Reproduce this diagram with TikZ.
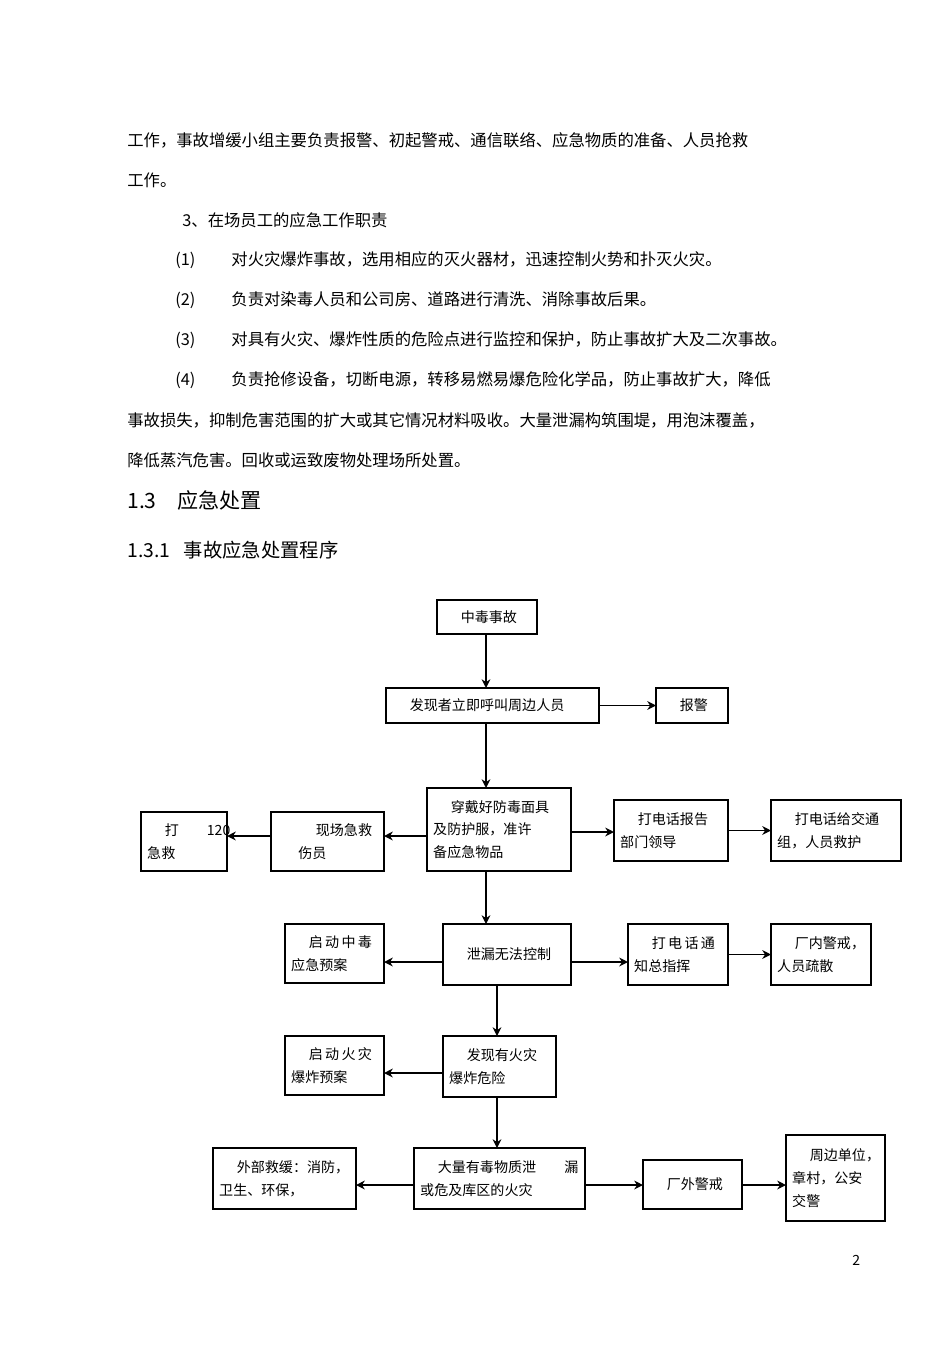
\documentclass[tikz,border=0pt]{standalone}
\usepackage{fontspec}
\newfontfamily\cjk{Noto Sans CJK SC}
\usetikzlibrary{arrows.meta}
\begin{document}
\begin{tikzpicture}[x=0.02cm,y=-0.02cm,
  bx/.style={draw,line width=0.8pt,inner sep=0pt},
  lb/.style={font=\cjk\fontsize{8}{13}\selectfont,align=left,anchor=west},
  ar/.style={-{Stealth[length=5pt,width=5pt]},line width=0.8pt},
  tx/.style={font=\cjk\fontsize{9.3}{11}\selectfont,anchor=west,inner sep=0pt}]
\useasboundingbox (0,0) rectangle (950,1345);
% body text
\node[tx] (t1) at (127,140) {工作，事故增缓小组主要负责报警、初起警戒、通信联络、应急物质的准备、人员抢救};
\node[tx] (t2) at (127,180) {工作。};
\node[tx] (t3) at (182,220) {3、在场员工的应急工作职责};
\node[tx] (t4) at (175,260) {(1)\hspace{2.2em}对火灾爆炸事故，选用相应的灭火器材，迅速控制火势和扑灭火灾。};
\node[tx] (t5) at (175,300) {(2)\hspace{2.2em}负责对染毒人员和公司房、道路进行清洗、消除事故后果。};
\node[tx] (t6) at (175,340) {(3)\hspace{2.2em}对具有火灾、爆炸性质的危险点进行监控和保护，防止事故扩大及二次事故。};
\node[tx] (t7) at (175,380) {(4)\hspace{2.2em}负责抢修设备，切断电源，转移易燃易爆危险化学品，防止事故扩大，降低};
\node[tx] (t8) at (127,420) {事故损失，抑制危害范围的扩大或其它情况材料吸收。大量泄漏构筑围堤，用泡沫覆盖，};
\node[tx] (t9) at (127,460) {降低蒸汽危害。回收或运致废物处理场所处置。};
\node[tx,font=\cjk\fontsize{12}{14}\selectfont] (h1) at (127,500) {1.3\hspace{1em}应急处置};
\node[tx,font=\cjk\fontsize{11}{13}\selectfont] (h2) at (127,550) {1.3.1\hspace{0.7em}事故应急处置程序};
\node[tx,font=\cjk\fontsize{8}{10}\selectfont] (pg) at (852,1260) {2};
% boxes
\newcommand{\bx}[6]{\draw[line width=0.8pt] (#2,#3) rectangle (#4,#5);
  \node[lb] (#1) at (#2,{(#3+#5)/2}) {\hspace*{10pt}#6};
  \coordinate (#1-n) at ({(#2+#4)/2},#3);
  \coordinate (#1-s) at ({(#2+#4)/2},#5);
  \coordinate (#1-w) at (#2,{(#3+#5)/2});
  \coordinate (#1-e) at (#4,{(#3+#5)/2});}
\bx{a}{437}{600}{537}{634}{中毒事故}
\bx{b}{386}{688}{599}{723}{发现者立即呼叫周边人员}
\bx{c}{656}{688}{728}{723}{报警}
\bx{d}{427}{788}{571}{871}{穿戴好防毒面具\\及防护服，准许\\备应急物品}
\bx{e}{614}{800}{728}{861}{打电话报告\\部门领导}
\bx{f}{771}{800}{901}{861}{打电话给交通\\组，人员救护}
\bx{g}{271}{812}{384}{871}{\hspace*{12pt}现场急救\\\hspace*{12pt}伤员}
\bx{h}{141}{812}{227}{871}{打\hspace{2em}120\\急救}
\bx{i}{443}{924}{571}{985}{泄漏无法控制}
\bx{j}{285}{924}{384}{983}{启\,动\,中\,毒\\应急预案}
\bx{k}{628}{924}{728}{985}{打\,电\,话\,通\\知总指挥}
\bx{l}{771}{924}{871}{985}{厂内警戒，\\人员疏散}
\bx{m}{443}{1036}{556}{1097}{发现有火灾\\爆炸危险}
\bx{n}{285}{1036}{384}{1095}{启\,动\,火\,灾\\爆炸预案}
\bx{o}{414}{1148}{585}{1209}{大量有毒物质泄\hspace{2em}漏\\或危及库区的火灾}
\bx{p}{213}{1148}{356}{1209}{外部救缓：消防，\\卫生、环保，}
\bx{q}{643}{1160}{742}{1209}{厂外警戒}
\bx{r}{786}{1135}{885}{1221}{周边单位，\\章村，公安\\交警}
% connectors
\draw[ar] (486,634) -- (486,688);
\draw[ar] (b-e) -- (c-w);
\draw[ar] (486,723) -- (486,788);
\draw[ar] (427,836) -- (384,836);
\draw[ar] (271,836) -- (227,836);
\draw[ar] (571,832) -- (614,832);
\draw[ar] (e-e) -- (f-w);
\draw[ar] (486,871) -- (486,924);
\draw[ar] (443,962) -- (384,962);
\draw[ar] (571,962) -- (628,962);
\draw[ar] (k-e) -- (l-w);
\draw[ar] (497,985) -- (497,1036);
\draw[ar] (443,1073) -- (384,1073);
\draw[ar] (497,1097) -- (497,1148);
\draw[ar] (414,1185) -- (356,1185);
\draw[ar] (585,1185) -- (643,1185);
\draw[ar] (742,1185) -- (786,1185);
\end{tikzpicture}
\end{document}
